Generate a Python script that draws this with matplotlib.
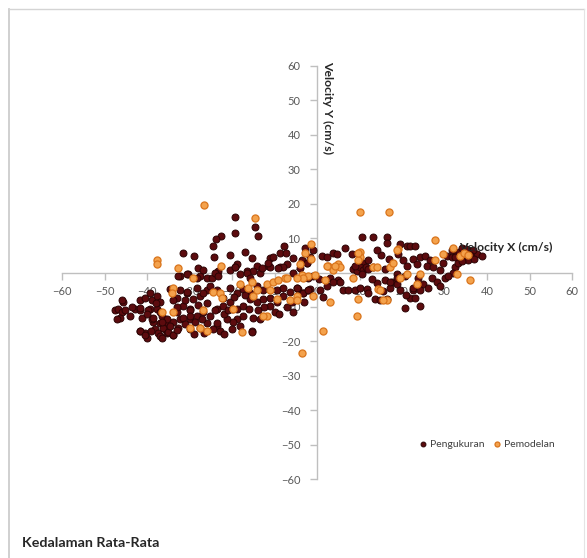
import matplotlib.pyplot as plt
from matplotlib.lines import Line2D

# Pengukuran (measurement) points: velocity x, velocity y in cm/s
ukur_x = [-19.3, -14.6, -19.3, -13.9, -22.6, -23.8, -24.5, -31.5, -28.9, -24.2,
          -7.8, -8.7, -7.3, -15.3, -11.1, -10.4, -18.8, -19.3, -14.1, -11.5,
          -11.1, -8.7, -28.0, -23.3, -16.5, -15.1, -13.4, -32.2, -30.4, -27.5,
          -25.9, -24.7,
          10.6, 13.2, 16.5, 16.5, 21.2, -2.8, -0.9, 6.6, 3.8, 4.7, 8.2,
          -5.6, -3.5, -1.6, 1.2, 2.4, 10.8, 12.0, 13.2, 18.8, 20.7, 21.2, 20.2,
          16.0, 17.6, 18.8, 3.1, 4.9,
          8.5, 9.4, 10.1, 10.8, 11.5, 9.0, 10.5, 12.0,
          15.0, 17.0, 19.0, 14.0, 22.5, 23.5, 16.0,
          19.5, 21.9, 23.1, 24.2, 25.4, 26.6, 25.9, 27.3, 28.9, 29.6, 30.6,
          31.8, 32.5, 32.0, 27.1, 28.2, 28.9, 30.1, 30.8, 23.8, 24.9, 26.1,
          22.6, 21.9, 24.2, 20.7, 22.6, 24.2, 17.2, 19.5,
          31.8, 32.9, 33.6, 34.8, 35.5, 36.5, 37.6, 38.8, 34.4, 32.5, 33.2,
          35.5, 36.7, 33.5, 34.1, 35.0, 36.0, 37.0, 34.0,
          -4.5, -1.6, 0.7, 2.4, 3.8, 5.4, 6.1, 7.3, 8.9, 10.1, 11.8, 12.0,
          13.6, 14.8, 16.5, 17.2, 18.8, -5.6, 14.0, 15.5, 21.0, 23.0, 13.0,
          -4.7, -3.3, -2.1, -1.0, 0.5, 1.5, -3.0,
          -2.4, -4.0, -5.6, -7.1, -8.0, -9.2, -12.9, -11.5,
          -17.0, -20.5,
          -47.5, -46.8, -45.9, -46.4, -45.2, -47.0, -45.6, -45.9,
          -42.8, -41.6, -41.6, -41.2, -40.5, -39.3, -38.8, -37.6, -39.3,
          -37.6, -36.9, -36.5, -36.9, -35.8, -35.3, -41.6, -40.5, -40.0,
          -35.3, -35.8, -38.6, -38.8, -38.1,
          -32.2, -30.6, -29.2, -27.5, -25.9, -31.5, -29.9, -32.9, -33.9,
          -32.2, -29.9, -28.2, -26.8, -25.2, -23.5, -22.1, -20.5, -18.8,
          -17.4, -15.8, -14.1, -12.7, -11.1, -9.4, -8.0, -25.9, -23.5,
          -21.2, -18.8, -17.4, -15.1, -13.4, -15.3, -33.9, -29.9, -27.5,
          -24.5, -22.8, -19.8, -18.1,
          -32.7, -30.6, -28.2, -26.8, -24.0, -23.3, -20.5, -19.3, -18.1,
          -16.5, -15.8, -2.4, -2.1,
          -34.6, -32.9, -30.6, -28.2, -26.8, -25.2, -23.5, -22.1, -20.5,
          -18.8, -17.4, -15.8, -14.1, -12.7, -11.1, -9.4, -8.0, -6.4, -4.7,
          -3.3, -2.1,
          -41.6, -40.5, -37.4, -36.2, -35.1, -33.9, -32.7, -31.5, -29.9,
          -28.7, -38.6, -36.5, -39.8, -41.6,
          -15.3, -23.5,
          -44.0, -43.5, -40.0, -38.0, -37.0, -34.0, -33.0, -31.0, -30.0,
          -28.0, -27.0, -26.0, -24.0, -22.0, -21.0, -20.0, -19.5, -17.0,
          -16.0, -14.0, -12.5, -10.0, -9.0, -7.0, -6.0, -34.5, -31.0,
          -29.0, -26.5, -22.0, -20.0, -37.0, -39.0, -36.5, -33.0]
ukur_y = [16.0, 13.1, 11.6, 10.5, 10.5, 9.6, 7.6, 5.8, 4.9, 4.4,
          7.8, 5.8, 5.8, 4.1, 4.1, 4.4, 2.6, 1.5, 2.0, 2.0,
          1.5, 1.7, 1.2, 0.3, 0.3, 0.3, 0.0, -0.9, -0.3, -0.9,
          -1.5, -1.5,
          10.2, 10.2, 10.2, 8.7, 7.8, 7.0, 6.4, 7.0, 5.8, 5.5, 5.5,
          4.1, 3.5, 4.4, 4.9, 4.4, 2.9, 3.5, 1.5, -0.3, -0.9, 2.0, 3.5,
          -2.3, -2.9, -3.2, -1.7, -2.3,
          1.0, 0.3, 1.7, 0.6, 1.5, 2.0, -0.3, 0.9,
          5.0, 4.0, 5.5, 6.5, 4.0, 2.5, 1.0,
          8.4, 7.8, 7.8, 4.4, 4.9, 3.5, 2.0, 1.5, 0.6, 2.9, 4.9,
          4.4, 1.5, 0.0, -1.7, -2.9, -3.8, -1.7, -0.9, -1.7, -3.2, -4.4,
          -5.2, -7.3, -9.6, -10.2, -4.4, -5.2, -4.4, -5.2,
          6.4, 5.8, 4.9, 5.5, 6.4, 4.4, 5.5, 4.9, 4.1, 4.4, 2.9,
          3.5, 6.4, 6.1, 7.0, 6.7, 5.2, 4.0, 3.2,
          -4.7, -4.7, -5.2, -3.8, -2.9, -2.9, -5.2, -5.2, -5.2, -4.4, -4.7,
          -6.1, -7.6, -8.1, -7.6, -2.9, -1.7, -11.6, -3.0, -5.5, -6.5,
          -7.5, -2.0,
          -4.4, -6.1, -5.2, -1.0, -2.0, -7.0, -8.5,
          2.9, 1.2, 0.0, 2.6, 1.5, 1.2, 1.2, 2.9,
          6.0, 5.0,
          -11.0, -10.5, -11.6, -13.1, -11.0, -13.4, -8.7, -8.1,
          -10.5, -8.1, -11.0, -13.1, -7.3, -6.1, -8.1, -6.7, -10.5,
          -10.5, -8.7, -12.5, -14.8, -14.5, -13.4, -16.9, -17.7, -18.9,
          -17.7, -16.3, -14.5, -13.4, -16.3,
          -5.2, -6.1, -7.6, -6.7, -5.2, -9.6, -10.5, -11.6, -14.5,
          -13.4, -13.4, -12.5, -11.6, -12.5, -10.5, -9.6, -8.7, -10.5,
          -9.6, -7.6, -8.7, -7.6, -9.6, -8.7, -6.7, -14.8, -15.4,
          -13.4, -13.4, -12.5, -13.1, -13.4, -16.9, -18.3, -16.3, -16.0,
          -16.3, -16.9, -14.5, -15.4,
          -0.9, -0.3, -1.7, 0.6, 0.0, -0.9, 0.6, 1.5, -0.3,
          0.0, -1.5, 2.9, -1.5,
          -4.7, -7.3, -5.8, -4.4, -6.1, -3.8, -5.2, -7.3, -4.4,
          -6.1, -4.7, -6.1, -3.8, -5.2, -7.3, -5.2, -4.4, -5.8, -4.4,
          -6.1, -5.2,
          -16.9, -18.3, -17.7, -16.0, -17.4, -18.3, -16.0, -13.1, -11.0,
          -14.5, -13.1, -14.5, -11.0, -10.2,
          -17.4, -14.8,
          -12.5, -10.0, -12.0, -9.0, -11.5, -8.0, -10.0, -8.0, -12.5,
          -9.5, -13.5, -9.0, -11.0, -12.0, -11.0, -10.5, -7.0, -6.5,
          -10.5, -11.0, -10.0, -11.5, -12.0, -10.0, -8.5, -15.5, -15.0,
          -18.0, -17.5, -17.8, -16.5, -18.5, -17.0, -19.0, -16.8]

# Pemodelan (model) points
model_x = [-26.5, -14.6, -32.7, -22.6, -7.5,
           10.1, 16.9, -1.4, 19.1, 10.1, -1.4, 10.1, 9.6, 2.6, 4.9, 5.4, 3.8,
           13.2, 14.1, 17.2, 17.9, -3.5, -2.1, -0.5, 8.5,
           33.6, 32.0, 36.0, 27.8, 27.8, 32.9, 29.6, 24.2, 18.8, 9.4, 1.4, -3.5,
           -4.7, -0.9, 3.1, 9.6, 14.4, 16.5, 1.9, -3.3,
           -36.5, -37.6, -37.6,
           -33.9, -29.2, -24.5, -22.8, -19.8, -18.1, -16.2, -15.1, -11.8,
           -10.4, -9.4, -26.8, -29.9, -27.5, -25.9, -17.6, -11.8,
           -33.9, -34.1, -15.3, -9.2, -7.1, -4.7, -14.1, -11.1, -12.7,
           -6.4, -4.7,
           15.5, 14.8, 19.5, 21.2, 23.5, 4.2, 2.4, -2.8, -4.0, 9.6,
           34.5, 35.5, -22.4]
model_y = [19.5, 15.7, 1.2, 2.0, -1.5,
           17.7, 17.7, 8.4, 6.7, 6.1, 4.0, 4.4, 3.5, 2.0, 2.6, 1.5, 0.6,
           1.5, 1.5, 1.5, 2.9, -0.6, -0.9, -0.6, -1.5,
           4.9, 7.0, -2.3, 9.3, 3.5, -0.3, 5.5, -0.3, 6.4, -12.5, -16.9, -23.3,
           -6.7, -6.7, -8.7, -7.6, -4.7, -8.1, -2.3, -1.7,
           -11.6, 3.5, 2.6,
           -4.4, -1.7, -5.8, -6.1, -10.5, -3.2, -4.4, -6.7, -3.2,
           -2.9, -7.6, -11.0, -16.0, -16.0, -16.9, -17.4, -12.5,
           -11.6, -6.1, -2.9, -2.3, -1.5, -1.7, -5.2, -5.2, -12.5,
           -8.1, -8.1,
           -8.1, -5.2, -1.5, -0.3, -3.2, 2.0, 2.0, 5.8, 2.6, 5.8,
           5.8, 5.0, -7.3]

ticks = [-60, -50, -40, -30, -20, -10, 0, 10, 20, 30, 40, 50, 60]

dark_face = '#5c0b0e'
dark_edge = '#2b0304'
orange_face = '#f4a24c'
orange_edge = '#d9741c'
axis_grey = '#bfbfbf'
text_grey = '#595959'

plt.rcParams['font.family'] = ['Lato', 'DejaVu Sans']

fig = plt.figure(figsize=(5.87, 5.58), dpi=100)

# chart frame
fig.add_artist(Line2D([9/587, 9/587], [0, 1 - 9/558], transform=fig.transFigure,
                      color='#c8c8c8', lw=1.2))
fig.add_artist(Line2D([9/587, 584/587], [1 - 9/558, 1 - 9/558], transform=fig.transFigure,
                      color='#d4d4d4', lw=1.0))
fig.add_artist(Line2D([584/587, 584/587], [0, 1 - 9/558], transform=fig.transFigure,
                      color='#e4e4e4', lw=0.8))

ax = fig.add_axes([62/587, 1 - 479/558, 510/587, 413/558])
ax.scatter(ukur_x, ukur_y, s=25, c=dark_face, edgecolors=dark_edge, linewidths=0.7,
           zorder=3, label='Pengukuran')
ax.scatter(model_x, model_y, s=26, c=orange_face, edgecolors=orange_edge, linewidths=0.9,
           zorder=4, label='Pemodelan')

ax.set_xlim(-60, 60)
ax.set_ylim(-60, 60)
ax.set_xticks(ticks)
ax.set_yticks(ticks)
ax.spines['left'].set_position('zero')
ax.spines['bottom'].set_position('zero')
ax.spines['top'].set_visible(False)
ax.spines['right'].set_visible(False)
for s in ['left', 'bottom']:
    ax.spines[s].set_color(axis_grey)
    ax.spines[s].set_linewidth(1.0)
ax.tick_params(axis='both', direction='out', length=5, width=1, color=axis_grey,
               labelcolor=text_grey, labelsize=8)
ax.tick_params(axis='x', pad=5)
ax.tick_params(axis='y', pad=7)
ax.patch.set_alpha(0)

ax.text(2.5, 61.5, 'Velocity Y (cm/s)', rotation=270, ha='center', va='top',
        fontsize=8.8, fontweight='bold', color='#262626')
ax.text(33.5, 7.3, 'Velocity X (cm/s)', ha='left', va='center',
        fontsize=8.8, fontweight='bold', color='#262626')

ax.legend(loc='center', bbox_to_anchor=(0.833, 0.085), ncol=2, frameon=False,
          fontsize=7.5, labelcolor='#404040', handlelength=0.8, handletextpad=0.3,
          columnspacing=0.8, markerscale=0.7)

fig.text(22/587, 1 - 543/558, 'Kedalaman Rata-Rata', ha='left', va='center',
         fontsize=10.3, fontweight='bold', color='#262626')

fig.savefig('out.png', dpi=100)
